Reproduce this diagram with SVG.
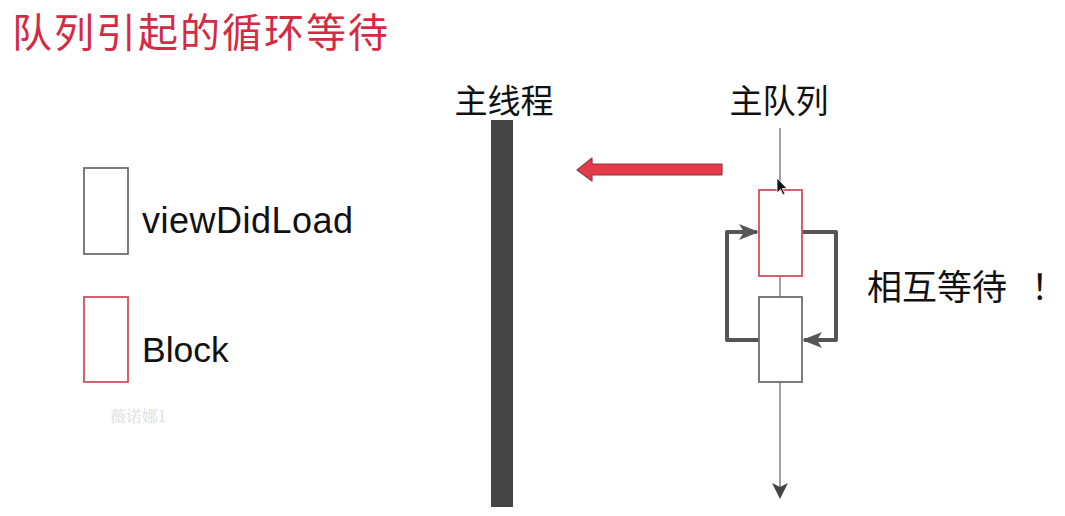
<svg xmlns="http://www.w3.org/2000/svg" width="1065" height="516" viewBox="0 0 1065 516">
<style>
.cjk{font-family:"Noto Sans CJK SC","Noto Sans",sans-serif;}
.lat{font-family:"Liberation Sans",Arial,sans-serif;fill:#111;}
.box{fill:#fff;stroke:#6e6e6e;stroke-width:1.8;}
.blk{fill:#fff;stroke:#d0505c;stroke-width:1.8;}
.loop{fill:none;stroke:#555;stroke-width:4;stroke-linejoin:round;}
.qline{stroke:#888;stroke-width:1.6;fill:none;}
</style>
<defs>
<marker id="stealth" viewBox="0 0 16 16" refX="14" refY="8" markerWidth="16" markerHeight="16" markerUnits="userSpaceOnUse" orient="auto">
<path d="M0,0 L16,8 L0,16 L4,8 Z" fill="#444"/>
</marker>
<marker id="loophead" viewBox="0 0 20 20" refX="18" refY="10" markerWidth="20" markerHeight="20" markerUnits="userSpaceOnUse" orient="auto">
<path d="M0,2 L20,10 L0,18 L5,10 Z" fill="#555"/>
</marker>
</defs>
<rect width="1065" height="516" fill="#fff"/>
<text id="title" class="cjk" x="12" y="47" font-size="40" fill="#d42a44" textLength="376" lengthAdjust="spacing">队列引起的循环等待</text>

<g id="legend-viewDidLoad">
<rect class="box" x="84" y="168" width="44" height="86"/>
<text class="lat" x="142" y="233" font-size="36" textLength="211">viewDidLoad</text>
</g>
<g id="legend-block">
<rect class="blk" x="84" y="297" width="44" height="85"/>
<text class="lat" x="142" y="362" font-size="35.5">Block</text>
</g>
<text id="watermark" x="110" y="422" font-family="'Noto Serif CJK SC','Liberation Serif',serif" font-size="16" fill="#dcdcdc">薇诺娜1</text>

<g id="main-thread">
<text class="cjk" x="504" y="113" font-size="33" fill="#111" text-anchor="middle">主线程</text>
<rect x="491" y="120" width="22" height="387" fill="#454545"/>
</g>

<g id="main-queue-label">
<text class="cjk" x="779" y="113" font-size="33" fill="#111" text-anchor="middle">主队列</text>
</g>

<g id="connectors">
<line class="qline" x1="780" y1="128" x2="780" y2="190"/>
<line class="qline" x1="780" y1="276" x2="780" y2="297"/>
<line class="qline" x1="780" y1="382" x2="780" y2="497" marker-end="url(#stealth)"/>
<polyline class="loop" points="759,340 727,340 727,232 757,232" marker-end="url(#loophead)"/>
<polyline class="loop" points="802,232 836,232 836,340 804,340" marker-end="url(#loophead)"/>
<polygon id="red-arrow" points="722,164 592,164 592,158 577,170 592,181 592,175 722,175" fill="#e23b4a" stroke="#8e3940" stroke-width="1.2" stroke-linejoin="round"/>
</g>

<g id="block-box">
<rect class="blk" x="759" y="190" width="43" height="86"/>
</g>
<g id="viewdidload-box">
<rect class="box" x="759" y="297" width="43" height="85"/>
</g>

<g id="mutual-wait">
<text class="cjk" x="867" y="300" font-size="35" fill="#111">相互等待<tspan x="1031">！</tspan></text>
</g>

<g id="cursor">
<path d="M777,178 L777,193 L780.5,189.5 L783,195 L785,194 L782.5,188.5 L787,188.5 Z" fill="#111" stroke="#fff" stroke-width="0.8"/>
</g>
</svg>
